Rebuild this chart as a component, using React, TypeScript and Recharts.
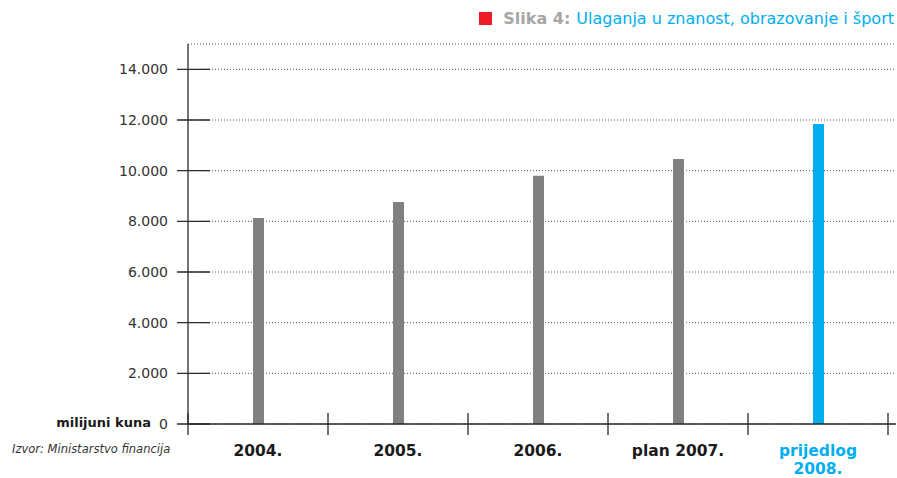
import React from 'react';
import { BarChart, Bar, XAxis, YAxis, CartesianGrid, Cell } from 'recharts';

const categories = ['2004.', '2005.', '2006.', 'plan 2007.', 'prijedlog\n2008.'];
const values = [8130, 8760, 9800, 10460, 11840];
const highlight = [false, false, false, false, true];
const yTicks = [0, 2000, 4000, 6000, 8000, 10000, 12000, 14000];

const data = categories.map((c, i) => ({ name: c, value: values[i], hi: highlight[i] }));

const GREY = '#808080';
const BLUE = '#00aeef';
const AXIS = '#2a2a2a';
const FONT = '"DejaVu Sans", "Liberation Sans", sans-serif';

const fmt = (v: number) => String(v).replace(/\B(?=(\d{3})+(?!\d))/g, '.');

const YTick = (props: any) => {
  const { x, y, payload } = props;
  const v = payload.value;
  return (
    <g>
      <line x1={x - 11} x2={x + 22} y1={y} y2={y} stroke={AXIS} strokeWidth={1.3} />
      <text x={x - 20} y={y} dy="0.36em" textAnchor="end" fontSize={14} fill="#333" fontFamily={FONT}>
        {fmt(v)}
      </text>
      {v === 0 && (
        <text x={x - 37} y={y} dy="0.2em" textAnchor="end" fontSize={13} fontWeight="bold" fill="#1a1a1a" fontFamily={FONT}>
          milijuni kuna
        </text>
      )}
    </g>
  );
};

const XTick = (props: any) => {
  const { x, y, payload, index, visibleTicksCount } = props;
  const off = payload && typeof payload.offset === 'number' && payload.offset > 0 ? payload.offset : 70;
  const idx = categories.indexOf(payload.value);
  const color = highlight[idx] ? BLUE : '#1a1a1a';
  const lines = String(payload.value).split('\n');
  const last = index === (visibleTicksCount ?? categories.length) - 1;
  return (
    <g>
      <line x1={x - off} x2={x - off} y1={y - 11} y2={y + 11} stroke={AXIS} strokeWidth={1.3} />
      {last && <line x1={x + off} x2={x + off} y1={y - 11} y2={y + 11} stroke={AXIS} strokeWidth={1.3} />}
      <text textAnchor="middle" fontSize={15.5} fontWeight="bold" fill={color} fontFamily={FONT}>
        {lines.map((l, i) => (
          <tspan key={i} x={x} y={y + 32 + i * 18}>
            {l}
          </tspan>
        ))}
      </text>
    </g>
  );
};

export default function App() {
  return (
    <div style={{ position: 'absolute', left: 0, top: 0, width: 897, height: 478, background: '#fff' }}>
      <div
        style={{
          position: 'absolute',
          right: 3,
          top: 9,
          fontFamily: FONT,
          fontSize: 16,
          whiteSpace: 'nowrap',
          display: 'flex',
          alignItems: 'center',
        }}
      >
        <span style={{ display: 'inline-block', width: 13, height: 13, background: '#ee1c25', marginRight: 11 }} />
        <span style={{ color: '#a6a6a6', fontWeight: 'bold' }}>Slika 4:</span>
        <span style={{ color: BLUE, marginLeft: 6 }}>Ulaganja u znanost, obrazovanje i šport</span>
      </div>
      <div
        style={{
          position: 'absolute',
          left: 12,
          top: 442,
          fontFamily: FONT,
          fontSize: 11.5,
          fontStyle: 'italic',
          color: '#333',
          whiteSpace: 'nowrap',
        }}
      >
        Izvor: Ministarstvo financija
      </div>
      <BarChart
        width={897}
        height={478}
        data={data}
        margin={{ top: 44, right: 1, bottom: 0, left: 0 }}
        style={{ position: 'absolute', left: 0, top: 0 }}
      >
        <CartesianGrid vertical={false} stroke="#555" strokeDasharray="1 2" />
        <YAxis
          type="number"
          domain={[0, 15000]}
          ticks={yTicks}
          width={188}
          tickSize={0}
          tickMargin={0}
          tickLine={false}
          axisLine={{ stroke: AXIS, strokeWidth: 1.3 }}
          tick={<YTick />}
          interval={0}
        />
        <XAxis
          dataKey="name"
          height={54}
          padding={{ left: 0, right: 8 }}
          tickSize={0}
          tickMargin={0}
          tickLine={false}
          axisLine={{ stroke: AXIS, strokeWidth: 1.3 }}
          tick={<XTick />}
          interval={0}
        />
        <Bar dataKey="value" barSize={11} isAnimationActive={false}>
          {data.map((d, i) => (
            <Cell key={i} fill={d.hi ? BLUE : GREY} />
          ))}
        </Bar>
      </BarChart>
    </div>
  );
}
